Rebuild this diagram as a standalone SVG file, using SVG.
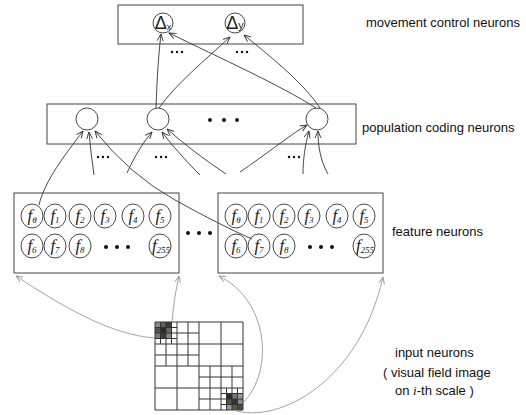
<svg xmlns="http://www.w3.org/2000/svg" width="526" height="415" viewBox="0 0 526 415">
<style>
.box{fill:#fff;stroke:#444;stroke-width:1}
.nc{fill:#fff;stroke:#333;stroke-width:0.9}
.fl{font-family:"Liberation Serif",serif;font-style:italic;font-size:17px;fill:#222}
.sub{font-size:9px}
.dl{font-family:"Liberation Sans",sans-serif;font-size:18px;fill:#222}
.lab{font-family:"Liberation Sans",Arial,sans-serif;font-size:13px;fill:#111}
.dot{fill:#111}
.bl{fill:none;stroke:#333;stroke-width:0.9;marker-end:url(#ab)}
.gl{fill:none;stroke:#999;stroke-width:0.9;marker-end:url(#ag)}
.grid{stroke:#333;stroke-width:1;fill:none}
</style>
<defs>
<marker id="ab" viewBox="0 0 8 8" refX="7" refY="4" markerWidth="8" markerHeight="8" markerUnits="userSpaceOnUse" orient="auto"><path d="M0,1 L7,4 L0,7" fill="none" stroke="#333" stroke-width="0.9"/></marker>
<marker id="ag" viewBox="0 0 8 8" refX="7" refY="4" markerWidth="8" markerHeight="8" markerUnits="userSpaceOnUse" orient="auto"><path d="M0,1 L7,4 L0,7" fill="none" stroke="#999" stroke-width="0.9"/></marker>
</defs>
<rect width="526" height="415" fill="#fff"/>

<g id="movement-layer">
<rect class="box" x="118" y="5" width="185" height="39"/>
<circle class="nc" cx="163" cy="23" r="10"/>
<text class="dl" x="163" y="29" text-anchor="middle">Δ<tspan font-size="9" dy="1">x</tspan></text>
<circle class="nc" cx="235" cy="23" r="10"/>
<text class="dl" x="235" y="29" text-anchor="middle">Δ<tspan font-size="11">y</tspan></text>
<g class="dot"><circle cx="172" cy="52" r="1.2"/><circle cx="177" cy="52" r="1.2"/><circle cx="182" cy="52" r="1.2"/>
<circle cx="237" cy="52" r="1.2"/><circle cx="242" cy="52" r="1.2"/><circle cx="247" cy="52" r="1.2"/></g>
<text class="lab" x="366" y="27">movement  control neurons</text>
</g>

<g id="population-layer">
<rect class="box" x="47" y="104" width="309" height="40"/>
<circle class="nc" cx="87" cy="119" r="11"/>
<circle class="nc" cx="158" cy="119" r="11"/>
<circle class="nc" cx="317" cy="119" r="11"/>
<g class="dot"><circle cx="210" cy="120" r="2"/><circle cx="224" cy="120" r="2"/><circle cx="237" cy="120" r="2"/></g>
<g class="dot"><circle cx="98" cy="157" r="1.2"/><circle cx="103" cy="157" r="1.2"/><circle cx="108" cy="157" r="1.2"/>
<circle cx="156" cy="157" r="1.2"/><circle cx="161" cy="157" r="1.2"/><circle cx="166" cy="157" r="1.2"/>
<circle cx="289" cy="157" r="1.2"/><circle cx="294" cy="157" r="1.2"/><circle cx="299" cy="157" r="1.2"/></g>
<text class="lab" x="362" y="132">population coding neurons</text>
</g>

<g id="feature-map-1">
<rect class="box" x="14" y="193" width="165" height="80"/>
<ellipse class="nc" cx="32" cy="216" rx="11" ry="12"/><text class="fl" x="32" y="221" text-anchor="middle">f<tspan class="sub" dy="2">θ</tspan></text>
<ellipse class="nc" cx="55" cy="216" rx="11" ry="12"/><text class="fl" x="55" y="221" text-anchor="middle">f<tspan class="sub" dy="2">1</tspan></text>
<ellipse class="nc" cx="80" cy="216" rx="11" ry="12"/><text class="fl" x="80" y="221" text-anchor="middle">f<tspan class="sub" dy="2">2</tspan></text>
<ellipse class="nc" cx="105" cy="216" rx="11" ry="12"/><text class="fl" x="105" y="221" text-anchor="middle">f<tspan class="sub" dy="2">3</tspan></text>
<ellipse class="nc" cx="133" cy="216" rx="11" ry="12"/><text class="fl" x="133" y="221" text-anchor="middle">f<tspan class="sub" dy="2">4</tspan></text>
<ellipse class="nc" cx="160" cy="216" rx="11" ry="12"/><text class="fl" x="160" y="221" text-anchor="middle">f<tspan class="sub" dy="2">5</tspan></text>
<ellipse class="nc" cx="32" cy="246" rx="11" ry="12"/><text class="fl" x="32" y="251" text-anchor="middle">f<tspan class="sub" dy="2">6</tspan></text>
<ellipse class="nc" cx="55" cy="246" rx="11" ry="12"/><text class="fl" x="55" y="251" text-anchor="middle">f<tspan class="sub" dy="2">7</tspan></text>
<ellipse class="nc" cx="80" cy="246" rx="11" ry="12"/><text class="fl" x="80" y="251" text-anchor="middle">f<tspan class="sub" dy="2">8</tspan></text>
<g class="dot"><circle cx="106" cy="247" r="2"/><circle cx="117" cy="247" r="2"/><circle cx="128" cy="247" r="2"/></g>
<ellipse class="nc" cx="160" cy="246" rx="11" ry="12"/><text class="fl" x="161" y="251" text-anchor="middle">f<tspan class="sub" dy="2">255</tspan></text>
</g>

<g id="between-dots" class="dot"><circle cx="188" cy="233" r="2"/><circle cx="199" cy="233" r="2"/><circle cx="210" cy="233" r="2"/></g>

<g id="feature-map-2">
<rect class="box" x="218" y="193" width="165" height="80"/>
<ellipse class="nc" cx="236" cy="216" rx="11" ry="12"/><text class="fl" x="236" y="221" text-anchor="middle">f<tspan class="sub" dy="2">θ</tspan></text>
<ellipse class="nc" cx="259" cy="216" rx="11" ry="12"/><text class="fl" x="259" y="221" text-anchor="middle">f<tspan class="sub" dy="2">1</tspan></text>
<ellipse class="nc" cx="284" cy="216" rx="11" ry="12"/><text class="fl" x="284" y="221" text-anchor="middle">f<tspan class="sub" dy="2">2</tspan></text>
<ellipse class="nc" cx="309" cy="216" rx="11" ry="12"/><text class="fl" x="309" y="221" text-anchor="middle">f<tspan class="sub" dy="2">3</tspan></text>
<ellipse class="nc" cx="337" cy="216" rx="11" ry="12"/><text class="fl" x="337" y="221" text-anchor="middle">f<tspan class="sub" dy="2">4</tspan></text>
<ellipse class="nc" cx="364" cy="216" rx="11" ry="12"/><text class="fl" x="364" y="221" text-anchor="middle">f<tspan class="sub" dy="2">5</tspan></text>
<ellipse class="nc" cx="236" cy="246" rx="11" ry="12"/><text class="fl" x="236" y="251" text-anchor="middle">f<tspan class="sub" dy="2">6</tspan></text>
<ellipse class="nc" cx="259" cy="246" rx="11" ry="12"/><text class="fl" x="259" y="251" text-anchor="middle">f<tspan class="sub" dy="2">7</tspan></text>
<ellipse class="nc" cx="284" cy="246" rx="11" ry="12"/><text class="fl" x="284" y="251" text-anchor="middle">f<tspan class="sub" dy="2">8</tspan></text>
<g class="dot"><circle cx="310" cy="247" r="2"/><circle cx="321" cy="247" r="2"/><circle cx="332" cy="247" r="2"/></g>
<ellipse class="nc" cx="364" cy="246" rx="11" ry="12"/><text class="fl" x="365" y="251" text-anchor="middle">f<tspan class="sub" dy="2">255</tspan></text>
<text class="lab" x="392" y="236">feature neurons</text>
</g>

<g id="input-image">
<g>
<rect x="155" y="322" width="5.5" height="5.5" fill="#8a8a8a"/>
<rect x="160.5" y="322" width="5.5" height="5.5" fill="#5c6048"/>
<rect x="166" y="322" width="5.5" height="5.5" fill="#3a3a40"/>
<rect x="155" y="327.5" width="5.5" height="5.5" fill="#555"/>
<rect x="160.5" y="327.5" width="5.5" height="5.5" fill="#2a2a2a"/>
<rect x="166" y="327.5" width="5.5" height="5.5" fill="#6b6b50"/>
<rect x="155" y="333" width="5.5" height="5.5" fill="#7a7a7a"/>
<rect x="160.5" y="333" width="5.5" height="5.5" fill="#3c3c3c"/>
<rect x="166" y="333" width="5.5" height="5.5" fill="#888"/>
<rect x="226.5" y="393.5" width="5.5" height="5.5" fill="#2b2b2b"/>
<rect x="232" y="393.5" width="5.5" height="5.5" fill="#777"/>
<rect x="237.5" y="393.5" width="5.5" height="5.5" fill="#999"/>
<rect x="226.5" y="399" width="5.5" height="5.5" fill="#4f5540"/>
<rect x="232" y="399" width="5.5" height="5.5" fill="#333"/>
<rect x="237.5" y="399" width="5.5" height="5.5" fill="#8a8a8a"/>
<rect x="226.5" y="404.5" width="5.5" height="5.5" fill="#999"/>
<rect x="232" y="404.5" width="5.5" height="5.5" fill="#5a6048"/>
<rect x="237.5" y="404.5" width="5.5" height="5.5" fill="#4a5038"/>
</g>
<path class="grid" d="M155,322H243V410H155Z
M177,322V410 M199,322V410 M221,322V410
M155,344H243 M155,366H243 M155,388H243
M166,322V366 M188,322V366 M155,333H199 M155,355H199
M210,366V410 M232,366V410 M199,377H243 M199,399H243
M160.5,322V344 M171.5,322V344 M155,327.5H177 M155,338.5H177
M226.5,388V410 M237.5,388V410 M221,393.5H243 M221,404.5H243"/>
<text class="lab" x="395" y="357">input neurons</text>
<text class="lab" x="383" y="377">( visual field image</text>
<text class="lab" x="395" y="395">on <tspan font-family="Liberation Serif,serif" font-style="italic">i</tspan>-th scale )</text>
</g>

<g id="connectors">
<path class="gl" d="M155,338 C110,335 60,305 16,276"/>
<path class="gl" d="M172,322 C174,300 176,290 179,276"/>
<path class="gl" d="M243,403 C275,370 268,300 219,276"/>
<path class="gl" d="M233,410 C280,425 360,380 383,277"/>

<path class="bl" d="M39,205 C45,180 65,155 83,131"/>
<path class="bl" d="M94,175 C92,160 90,145 89,132"/>
<path class="bl" d="M252,239 Q220,225 175,200 Q130,175 95,131"/>
<path class="bl" d="M127,173 C135,155 145,140 152,132"/>
<path class="bl" d="M200,175 C185,160 172,145 162,132"/>
<path class="bl" d="M226,174 C205,160 185,145 167,129"/>
<path class="bl" d="M240,172 C265,155 290,135 307,125"/>
<path class="bl" d="M303,174 C303,160 305,145 309,131"/>
<path class="bl" d="M328,174 C320,160 318,145 318,131"/>

<path class="bl" d="M156,108 C157,80 158,60 161,34"/>
<path class="bl" d="M159,108 C175,85 205,60 230,37"/>
<path class="bl" d="M316,108 C280,85 220,58 169,33"/>
<path class="bl" d="M320,108 C305,85 275,60 244,35"/>
</g>
</svg>
